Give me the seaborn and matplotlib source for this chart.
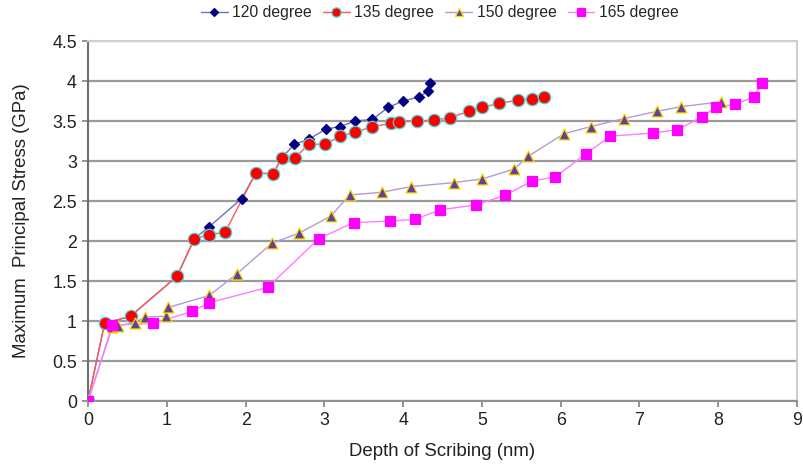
import matplotlib
matplotlib.use("Agg")
import matplotlib.pyplot as plt
from matplotlib.lines import Line2D
import seaborn as sns
import pandas as pd

# Depth of scribing (nm) and maximum principal stress (GPa) per tool angle
depth_120 = [0, 0.21, 0.54, 1.13, 1.35, 1.54, 1.95, 2.13, 2.35, 2.46, 2.62, 2.80,
             3.02, 3.20, 3.39, 3.61, 3.81, 4.00, 4.20, 4.32, 4.34]
stress_120 = [0, 0.97, 1.06, 1.56, 2.03, 2.18, 2.53, 2.85, 2.84, 3.04, 3.21, 3.27,
              3.40, 3.43, 3.50, 3.52, 3.67, 3.75, 3.80, 3.875, 3.98]

depth_135 = [0, 0.21, 0.54, 1.13, 1.35, 1.54, 1.74, 2.13, 2.35, 2.46, 2.63, 2.80,
             3.01, 3.20, 3.39, 3.61, 3.85, 3.95, 4.18, 4.39, 4.59, 4.83, 5.00,
             5.22, 5.46, 5.63, 5.79]
stress_135 = [0, 0.97, 1.06, 1.56, 2.03, 2.08, 2.11, 2.85, 2.84, 3.04, 3.04, 3.21,
              3.21, 3.31, 3.36, 3.43, 3.47, 3.49, 3.50, 3.51, 3.54, 3.62, 3.67,
              3.72, 3.76, 3.78, 3.80]

depth_150 = [0, 0.31, 0.38, 0.60, 0.72, 0.99, 1.02, 1.54, 1.89, 2.33, 2.68, 3.08,
             3.32, 3.73, 4.10, 4.64, 5.00, 5.41, 5.59, 6.04, 6.38, 6.80, 7.22,
             7.53, 8.04]
stress_150 = [0, 0.93, 0.94, 0.98, 1.05, 1.06, 1.17, 1.32, 1.59, 1.97, 2.10, 2.31,
              2.575, 2.61, 2.68, 2.73, 2.775, 2.90, 3.06, 3.34, 3.43, 3.53, 3.62,
              3.68, 3.74]

depth_165 = [0, 0.31, 0.83, 1.32, 1.54, 2.28, 2.93, 3.37, 3.83, 4.15, 4.47, 4.92,
             5.29, 5.64, 5.93, 6.32, 6.63, 7.17, 7.48, 7.79, 7.97, 8.21, 8.45, 8.56]
stress_165 = [0, 0.95, 0.97, 1.12, 1.23, 1.42, 2.03, 2.23, 2.25, 2.27, 2.39, 2.45,
              2.57, 2.75, 2.80, 3.09, 3.31, 3.35, 3.39, 3.55, 3.67, 3.71, 3.80, 3.98]

series_labels = ["120 degree", "135 degree", "150 degree", "165 degree"]
x_ticks = [0, 1, 2, 3, 4, 5, 6, 7, 8, 9]
y_ticks = [0, 0.5, 1, 1.5, 2, 2.5, 3, 3.5, 4, 4.5]
y_tick_labels = ["0", "0.5", "1", "1.5", "2", "2.5", "3", "3.5", "4", "4.5"]

sns.set_theme(style="white")
plt.rcParams["font.family"] = ["Liberation Sans", "DejaVu Sans"]

fig = plt.figure(figsize=(8.04, 4.65), dpi=100)
ax = fig.add_axes([0.1095, 0.1376, 0.8818, 0.7742])

styles = [
    dict(line="#6f6fb5", face="#000080", edge="#000080", marker="D", size=26, lw=1.0),
    dict(line="#ff5a5a", face="#ff0000", edge="#48d8d8", marker="o", size=80, lw=1.0),
    dict(line="#b39ad6", face="#6a3d9a", edge="#f0e000", marker="^", size=62, lw=1.0),
    dict(line="#ff7cff", face="#ff00ff", edge="#ff00ff", marker="s", size=48, lw=1.0),
]
data = [(depth_120, stress_120), (depth_135, stress_135),
        (depth_150, stress_150), (depth_165, stress_165)]

frames = []
for label, (xs, ys) in zip(series_labels, data):
    frames.append(pd.DataFrame({"depth": xs, "stress": ys, "angle": label}))
df = pd.concat(frames, ignore_index=True)

handles = []
for i, (label, st) in enumerate(zip(series_labels, styles)):
    sub = df[df["angle"] == label]
    sns.lineplot(data=sub, x="depth", y="stress", ax=ax, sort=False,
                 color=st["line"], linewidth=st["lw"], zorder=2 + i, legend=False)
    sns.scatterplot(data=sub, x="depth", y="stress", ax=ax, marker=st["marker"],
                    s=st["size"], color=st["face"], edgecolor=st["edge"],
                    linewidth=0.9, zorder=6 + i, legend=False)
    handles.append(Line2D([0], [0], color=st["line"], lw=1.0, marker=st["marker"],
                          markerfacecolor=st["face"], markeredgecolor=st["edge"],
                          markersize=(st["size"] ** 0.5) * 0.75, markeredgewidth=0.9))

ax.set_xlim(0, 9)
ax.set_ylim(0, 4.5)
ax.set_xticks(x_ticks)
ax.set_yticks(y_ticks)
ax.set_yticklabels(y_tick_labels)
ax.yaxis.grid(True, color="#9a9a9a", linewidth=1.6)
ax.xaxis.grid(False)
ax.set_axisbelow(True)

for side in ["top", "right"]:
    ax.spines[side].set_color("#d0d0d0")
    ax.spines[side].set_linewidth(1.5)
ax.spines["left"].set_color("#707070")
ax.spines["left"].set_linewidth(1.5)
ax.spines["bottom"].set_color("#909090")
ax.spines["bottom"].set_linewidth(1.5)
ax.tick_params(axis="both", which="major", direction="out", length=4, width=1.2,
               color="#808080", labelsize=12.8, labelcolor="#222222", pad=4,
               bottom=True, left=True)

ax.set_xlabel("Depth of Scribing (nm)", fontsize=13.4, color="#222222", labelpad=10)
ax.set_ylabel("Maximum  Principal Stress (GPa)", fontsize=13.4, color="#222222",
              labelpad=16)

fig.legend(handles=handles, labels=series_labels, loc="center", ncol=4,
           bbox_to_anchor=(0.547, 0.973), frameon=False, fontsize=11.3,
           handlelength=1.7, columnspacing=0.7, handletextpad=0.3)

fig.savefig("out.png", dpi=100)
